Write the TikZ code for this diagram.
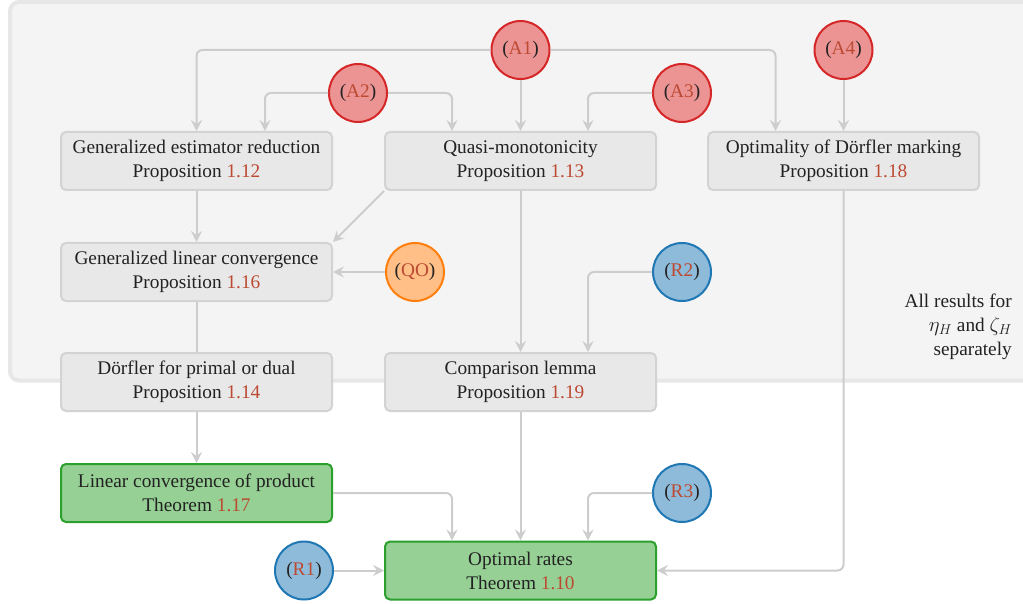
\documentclass[tikz,border=0pt]{standalone}
\usepackage{fontspec}
\setmainfont{Liberation Serif}
\usetikzlibrary{arrows.meta}
\definecolor{bgfill}{HTML}{F4F4F4}
\definecolor{bgdraw}{HTML}{E7E7E7}
\definecolor{boxfill}{HTML}{E8E8E8}
\definecolor{boxdraw}{HTML}{D3D3D3}
\definecolor{edgec}{HTML}{CDCDCD}
\definecolor{refc}{HTML}{BC4A32}
\definecolor{txt}{HTML}{222222}
\definecolor{redfill}{HTML}{EC9494}
\definecolor{reddraw}{HTML}{D62728}
\definecolor{orfill}{HTML}{FFBF87}
\definecolor{ordraw}{HTML}{FF7F0E}
\definecolor{blfill}{HTML}{8FBBDA}
\definecolor{bldraw}{HTML}{1F77B4}
\definecolor{grfill}{HTML}{96D094}
\definecolor{grdraw}{HTML}{2CA02C}
\newcommand\rf[1]{\textcolor{refc}{#1}}
\tikzset{
  basefont/.style={font=\fontsize{19.3}{24}\selectfont, text=txt},
  pbox/.style={basefont, draw=boxdraw, fill=boxfill, line width=2pt, rounded corners=5pt,
    minimum width=271pt, minimum height=58pt, align=center, inner sep=0pt},
  tbox/.style={pbox, draw=grdraw, fill=grfill},
  circ/.style={basefont, circle, line width=2pt, minimum size=58pt, inner sep=0pt},
  redc/.style={circ, draw=reddraw, fill=redfill},
  orc/.style={circ, draw=ordraw, fill=orfill},
  bluc/.style={circ, draw=bldraw, fill=blfill},
  edge/.style={draw=edgec, line width=2pt, rounded corners=6pt,
    -{Stealth[length=11pt,width=11pt,inset=4pt]}},
  plain/.style={draw=edgec, line width=2pt}
}
\begin{document}
\begin{tikzpicture}[x=1pt,y=-1pt]
\useasboundingbox (0,0) rectangle (1023,604);
\draw[draw=bgdraw, fill=bgfill, line width=4pt, rounded corners=9pt] (10,2) rectangle (1045,380.5);

% boxes
\node[pbox] (ger) at (196.5,161) {Generalized estimator reduction\\Proposition \rf{1.12}};
\node[pbox] (qm) at (520.5,161) {Quasi-monotonicity\\Proposition \rf{1.13}};
\node[pbox] (odm) at (843.5,161) {Optimality of Dörfler marking\\Proposition \rf{1.18}};
\node[pbox] (glc) at (196.5,272) {Generalized linear convergence\\Proposition \rf{1.16}};
\node[pbox] (dpd) at (196.5,382) {Dörfler for primal or dual\\Proposition \rf{1.14}};
\node[pbox] (cl) at (520.5,382) {Comparison lemma\\Proposition \rf{1.19}};
\node[tbox] (lcp) at (196.5,493) {Linear convergence of product\\Theorem \rf{1.17}};
\node[tbox] (or) at (520.5,570.5) {Optimal rates\\Theorem \rf{1.10}};

% circles
\node[redc] (a1) at (520.5,50) {(\rf{A1})};
\node[redc] (a2) at (358,93) {(\rf{A2})};
\node[redc] (a3) at (682,93) {(\rf{A3})};
\node[redc] (a4) at (843.5,50) {(\rf{A4})};
\node[orc] (qo) at (415,272) {(\rf{QO})};
\node[bluc] (r2) at (682,272) {(\rf{R2})};
\node[bluc] (r3) at (682,493) {(\rf{R3})};
\node[bluc] (r1) at (304,570.5) {(\rf{R1})};

% note
\node[basefont, anchor=east, align=right, inner sep=0pt] (note) at (1012,327)
  {All results for\\$\eta_H$ and $\zeta_H$\\separately};

% edges
\draw[edge] (a1.west) -| (ger.north);
\draw[edge] (a1.south) -- (qm.north);
\draw[edge] (a1.east) -| ([xshift=-68pt]odm.north);
\draw[edge] (a2.west) -| ([xshift=68.5pt]ger.north);
\draw[edge] (a2.east) -| ([xshift=-68.5pt]qm.north);
\draw[edge] (a3.west) -| ([xshift=67.5pt]qm.north);
\draw[edge] (a4.south) -- (odm.north);
\draw[edge] (ger.south) -- (glc.north);
\draw[edge] (qm.south west) -- (glc.north east);
\draw[edge] (qo.west) -- (glc.east);
\draw[plain] (glc.south) -- (dpd.north);
\draw[edge] (qm.south) -- (cl.north);
\draw[edge] (r2.west) -| ([xshift=67.5pt]cl.north);
\draw[edge] (dpd.south) -- (lcp.north);
\draw[edge] (lcp.east) -| ([xshift=-68.5pt]or.north);
\draw[edge] (cl.south) -- (or.north);
\draw[edge] (r3.west) -| ([xshift=67.5pt]or.north);
\draw[edge] (r1.east) -- (or.west);
\draw[edge] (odm.south) |- (or.east);
\end{tikzpicture}
\end{document}
